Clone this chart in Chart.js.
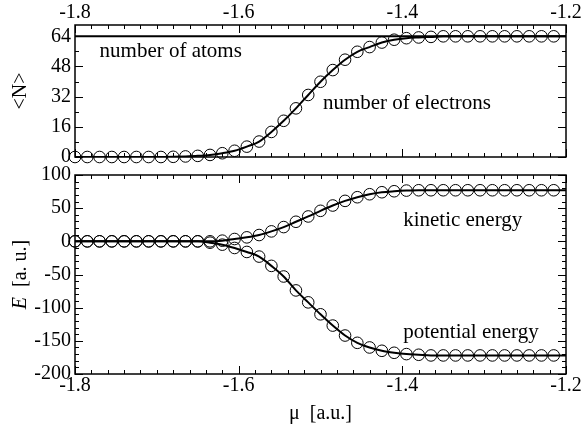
<!DOCTYPE html>
<html>
<head>
<meta charset="utf-8">
<script src="https://cdn.jsdelivr.net/npm/chart.js@4.4.1/dist/chart.umd.min.js"></script>
<style>
  html, body { margin: 0; padding: 0; background: #fff; }
  #wrap { position: relative; width: 584px; height: 426px; }
  .box { position: absolute; left: 0; width: 584px; }
  #top { top: 0; height: 173px; }
  #bottom { top: 159px; height: 267px; }
</style>
</head>
<body>
<div id="wrap">
  <div class="box" id="top"><canvas id="nChart"></canvas></div>
  <div class="box" id="bottom"><canvas id="eChart"></canvas></div>
</div>
<script>
// chemical potential (x)
const mu = [-1.8, -1.785, -1.77, -1.755, -1.74, -1.725, -1.71, -1.695, -1.68, -1.665,
            -1.65, -1.635, -1.62, -1.605, -1.59, -1.575, -1.56, -1.545, -1.53, -1.515,
            -1.5, -1.485, -1.47, -1.455, -1.44, -1.425, -1.41, -1.395, -1.38, -1.365,
            -1.35, -1.335, -1.32, -1.305, -1.29, -1.275, -1.26, -1.245, -1.23, -1.215];
const muEnd = -1.2;

const atoms = 64;
const electrons = [0, 0, 0, 0, 0, 0, 0, 0, 0.1, 0.3,
                   0.6, 1.1, 2, 3.3, 5.5, 8.2, 13.3, 19.2, 25.8, 32.9,
                   39.9, 46.1, 51.6, 55.8, 58.3, 60.7, 62.2, 63, 63.4, 63.7,
                   64, 64, 64, 64, 64, 64, 64, 64, 64, 64];
const kinetic = [0, 0, 0, 0, 0, 0, 0, 0, 0, 0,
                 0, 0, 1, 3.5, 6, 9.5, 15, 21.5, 29.5, 37.5,
                 46, 54, 61, 66.5, 71, 74, 75.5, 76.5, 77, 77,
                 77, 77, 77, 77, 77, 77, 77, 77, 77, 77];
const potential = [0, 0, 0, 0, 0, 0, 0, 0, 0, 0,
                   0, -2, -5, -10, -16, -23, -37, -53, -74, -92,
                   -110, -127, -142, -153, -160, -165, -168, -170, -171, -172,
                   -172, -172, -172, -172, -172, -172, -172, -172, -172, -172];

const muTicks = [-1.8, -1.6, -1.4, -1.2];
const nTicks = [0, 16, 32, 48, 64];
const eTicks = [-200, -150, -100, -50, 0, 50, 100];

const FONT = "'Liberation Serif', 'Times New Roman', serif";
Chart.defaults.font.family = FONT;
Chart.defaults.font.size = 20;
Chart.defaults.color = '#000';

const pts = (ys) => mu.map((m, i) => ({ x: m, y: ys[i] }));
const curve = (ys) => pts(ys).concat([{ x: muEnd, y: ys[ys.length - 1] }]);

const circles = (ys) => ({
  data: pts(ys), showLine: false, clip: false,
  pointRadius: 5.8, pointBorderWidth: 1, pointBorderColor: '#000',
  pointBackgroundColor: 'rgba(0,0,0,0)'
});
const line = (data) => ({
  data: data, pointRadius: 0, borderWidth: 2, borderColor: '#000',
  tension: 0.4, cubicInterpolationMode: 'monotone'
});

// inward tick marks + frame + text notes
const frame = {
  id: 'frame',
  afterDraw(chart, args, o) {
    const { ctx, chartArea: a, scales } = chart;
    ctx.save();
    ctx.strokeStyle = '#000';
    ctx.lineWidth = 1;
    ctx.beginPath();
    let n = Math.round(0.6 / 0.02);
    for (let i = 0; i <= n; i++) {
      const p = Math.round(scales.x.getPixelForValue(-1.8 + i * 0.02)) + 0.5;
      const len = i % 10 === 0 ? 8 : 4;
      ctx.moveTo(p, a.bottom); ctx.lineTo(p, a.bottom - len);
      ctx.moveTo(p, a.top); ctx.lineTo(p, a.top + len);
    }
    n = Math.round((o.yMax - o.yMin) / o.yStep);
    for (let i = 0; i <= n; i++) {
      const p = Math.round(scales.y.getPixelForValue(o.yMin + i * o.yStep)) + 0.5;
      const len = i % o.yMajor === 0 ? 8 : 4;
      ctx.moveTo(a.left, p); ctx.lineTo(a.left + len, p);
      ctx.moveTo(a.right, p); ctx.lineTo(a.right - len, p);
    }
    ctx.stroke();
    ctx.lineWidth = 1.5;
    ctx.strokeRect(a.left, a.top, a.right - a.left, a.bottom - a.top);

    ctx.font = '21px ' + FONT;
    ctx.fillStyle = '#000';
    ctx.textBaseline = 'middle';
    ctx.textAlign = 'left';
    o.notes.forEach(t => {
      ctx.fillText(t.text, scales.x.getPixelForValue(t.x), scales.y.getPixelForValue(t.y));
    });

    // rotated y title, parts may be italic
    ctx.translate(o.titleX, (a.top + a.bottom) / 2);
    ctx.rotate(-Math.PI / 2);
    let w = 0;
    o.title.forEach(p => { ctx.font = p.font + ' 20px ' + FONT; w += ctx.measureText(p.text).width; });
    let x = -w / 2;
    o.title.forEach(p => {
      ctx.font = p.font + ' 20px ' + FONT;
      ctx.fillText(p.text, x, 0);
      x += ctx.measureText(p.text).width;
    });
    ctx.restore();
  }
};

const fixTicks = (list) => (s) => { s.ticks = list.map(v => ({ value: v })); };

new Chart(document.getElementById('nChart'), {
  type: 'line',
  data: {
    datasets: [
      line([{ x: -1.8, y: atoms }, { x: muEnd, y: atoms }]),
      line(curve(electrons)),
      circles(electrons)
    ]
  },
  options: {
    animation: false, responsive: true, maintainAspectRatio: false,
    layout: { padding: { left: 0, right: 18, top: 0, bottom: 11 } },
    plugins: {
      legend: { display: false }, tooltip: { enabled: false },
      frame: {
        yMin: 0, yMax: 64, yStep: 8, yMajor: 2, titleX: 21,
        title: [{ text: '<N>', font: 'normal' }],
        notes: [
          { text: 'number of atoms', x: -1.77, y: 56 },
          { text: 'number of electrons', x: -1.497, y: 28.5 }
        ]
      }
    },
    scales: {
      x: {
        type: 'linear', position: 'top', min: -1.8, max: -1.2,
        afterBuildTicks: fixTicks(muTicks),
        afterFit: (s) => { s.height = 25; },
        ticks: { padding: 0, maxRotation: 0, callback: (v) => v.toFixed(1) },
        grid: { display: false, drawTicks: false }, border: { display: false }
      },
      y: {
        min: 0, max: 70,
        afterBuildTicks: fixTicks(nTicks),
        afterFit: (s) => { s.width = 75; },
        ticks: { padding: 4 },
        grid: { display: false, drawTicks: false }, border: { display: false }
      }
    }
  },
  plugins: [frame]
});

new Chart(document.getElementById('eChart'), {
  type: 'line',
  data: {
    datasets: [
      line(curve(kinetic)),
      line(curve(potential)),
      circles(kinetic),
      circles(potential)
    ]
  },
  options: {
    animation: false, responsive: true, maintainAspectRatio: false,
    layout: { padding: { left: 0, right: 18, top: 15, bottom: 0 } },
    plugins: {
      legend: { display: false }, tooltip: { enabled: false },
      frame: {
        yMin: -200, yMax: 100, yStep: 10, yMajor: 5, titleX: 21,
        title: [{ text: 'E', font: 'italic' }, { text: '  [a. u.]', font: 'normal' }],
        notes: [
          { text: 'kinetic energy', x: -1.399, y: 31 },
          { text: 'potential energy', x: -1.399, y: -137 }
        ]
      }
    },
    scales: {
      x: {
        type: 'linear', position: 'bottom', min: -1.8, max: -1.2,
        afterBuildTicks: fixTicks(muTicks),
        afterFit: (s) => { s.height = 52; },
        ticks: { padding: 0, maxRotation: 0, callback: (v) => v.toFixed(1) },
        title: { display: true, text: 'μ  [a.u.]', padding: 0 },
        grid: { display: false, drawTicks: false }, border: { display: false }
      },
      y: {
        min: -200, max: 100,
        afterBuildTicks: fixTicks(eTicks),
        afterFit: (s) => { s.width = 75; },
        ticks: { padding: 4 },
        grid: { display: false, drawTicks: false }, border: { display: false }
      }
    }
  },
  plugins: [frame]
});
</script>
</body>
</html>
